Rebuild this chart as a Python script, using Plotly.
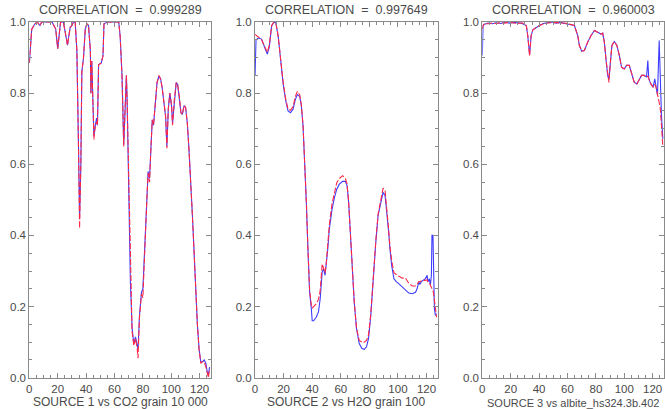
import plotly.graph_objects as go

# ---- Panel 1: SOURCE 1 vs CO2 grain 10 000 ----
x1 = [0, 1.7, 4, 5.5, 7.5, 8.7, 12, 16, 18.6, 20, 21.2, 22, 24, 25.7, 26.9, 27.8, 28.8, 30, 31, 32.3,
      33.5, 34.7, 35.4, 36.3, 37, 38.2, 39.4, 40.6, 41.7, 43, 43.4, 44, 44.8, 45.5, 46.5, 47.4, 48, 48.8,
      50.7, 51.9, 52.6, 55, 60, 63, 64, 65.3, 66.5, 67.7, 68.4, 68.9, 70, 71.2, 72.4, 73.6, 74.8, 75.9,
      76.6, 77.6, 79, 80, 81.1, 83, 83.7, 84.7, 85.6, 86.6, 87.5, 88.9, 90, 91.3, 92.5, 93.6, 94.8, 96,
      96.9, 97.9, 99, 100.2, 100.9, 102.1, 103.5, 104.5, 105.7, 106.8, 107.8, 109, 110.1, 111.3, 112.5,
      113.7, 114.9, 116, 117.2, 118.4, 119.6, 120.8, 122, 123.2, 124.4, 125.5, 126.2, 127]
source1 = [0.885, 0.98, 0.995, 1.0, 0.99, 1.0, 1.0, 1.0, 0.98, 0.925, 0.97, 1.0, 1.0, 0.96, 0.935, 0.96,
           0.985, 0.99, 1.0, 1.0, 0.92, 0.64, 0.45, 0.6, 0.86, 0.9, 0.98, 0.995, 0.99, 0.92, 0.80, 0.89,
           0.78, 0.68, 0.71, 0.73, 0.71, 0.88, 0.885, 0.905, 0.995, 1.0, 1.0, 1.0, 0.96, 0.85, 0.655, 0.755,
           0.85, 0.78, 0.55, 0.27, 0.14, 0.096, 0.115, 0.096, 0.08, 0.175, 0.24, 0.25, 0.36, 0.52, 0.58,
           0.56, 0.64, 0.725, 0.71, 0.775, 0.83, 0.848, 0.84, 0.815, 0.775, 0.735, 0.65, 0.755, 0.80, 0.765,
           0.715, 0.78, 0.83, 0.825, 0.79, 0.745, 0.74, 0.765, 0.76, 0.717, 0.64, 0.56, 0.456, 0.36, 0.25,
           0.15, 0.08, 0.045, 0.045, 0.05, 0.04, 0.012, 0.01, 0.03]
co2 = [0.885, 0.98, 0.995, 1.0, 0.99, 1.0, 1.0, 1.0, 0.98, 0.925, 0.97, 1.0, 1.0, 0.96, 0.935, 0.96,
       0.985, 0.99, 1.0, 1.0, 0.92, 0.63, 0.42, 0.6, 0.86, 0.9, 0.98, 0.995, 0.99, 0.92, 0.80, 0.89,
       0.78, 0.67, 0.71, 0.72, 0.71, 0.88, 0.885, 0.905, 0.995, 1.0, 1.0, 1.0, 0.96, 0.85, 0.65, 0.755,
       0.85, 0.78, 0.55, 0.27, 0.13, 0.09, 0.11, 0.085, 0.055, 0.17, 0.235, 0.225, 0.35, 0.52, 0.575,
       0.55, 0.64, 0.725, 0.71, 0.775, 0.83, 0.85, 0.84, 0.815, 0.775, 0.735, 0.645, 0.755, 0.80, 0.765,
       0.71, 0.78, 0.83, 0.825, 0.79, 0.745, 0.74, 0.765, 0.76, 0.717, 0.64, 0.56, 0.456, 0.36, 0.25,
       0.15, 0.08, 0.04, 0.045, 0.045, 0.03, 0.01, 0.0, 0.025]

# ---- Panel 2: SOURCE 2 vs H2O grain 100 ----
x2 = [0, 0.7, 2.3, 4.6, 6.9, 8.6, 10, 11.6, 13.2, 14.6, 16.2, 17.8, 19.7, 21.5, 23.1, 24.8, 26.6, 28.2,
      29.6, 31.3, 32.4, 33.6, 34.7, 35.9, 37, 38.2, 39.4, 40, 41, 42.8, 44.4, 45.6, 47, 47.9, 49, 49.8,
      50.9, 52, 53.9, 55.6, 57.2, 59, 61.3, 63.2, 64.4, 65.5, 66.7, 67.8, 69.4, 71, 72.9, 74.8, 76.4, 78,
      79.4, 81, 82.6, 84.5, 86.1, 88, 89.6, 91, 92.1, 93.3, 94.4, 95.6, 97.2, 98.8, 100.7, 103, 105.3,
      107.6, 110, 112.3, 113.4, 114.6, 115.3, 116.4, 118, 119.2, 120.4, 121, 122, 122.7, 123.4, 123.8,
      124.5, 125, 125.5, 126.2, 127]
source2 = [0.848, 0.95, 0.955, 0.952, 0.927, 0.91, 0.93, 0.988, 1.0, 0.997, 0.96, 0.895, 0.825, 0.778,
           0.75, 0.745, 0.755, 0.782, 0.796, 0.79, 0.764, 0.708, 0.624, 0.493, 0.362, 0.24, 0.194, 0.16,
           0.16, 0.17, 0.185, 0.222, 0.297, 0.306, 0.288, 0.316, 0.362, 0.418, 0.474, 0.507, 0.53, 0.544,
           0.552, 0.552, 0.54, 0.493, 0.409, 0.316, 0.213, 0.138, 0.096, 0.082, 0.08, 0.087, 0.11, 0.175,
           0.278, 0.381, 0.456, 0.493, 0.521, 0.512, 0.474, 0.418, 0.362, 0.316, 0.278, 0.27, 0.264, 0.255,
           0.246, 0.238, 0.236, 0.24, 0.25, 0.27, 0.262, 0.27, 0.275, 0.278, 0.288, 0.27, 0.278, 0.26,
           0.288, 0.4, 0.4, 0.288, 0.194, 0.175, 0.18]
h2o = [0.965, 0.962, 0.958, 0.95, 0.93, 0.915, 0.935, 0.99, 1.0, 0.997, 0.96, 0.9, 0.83, 0.783, 0.755,
       0.752, 0.762, 0.79, 0.805, 0.795, 0.768, 0.71, 0.625, 0.495, 0.365, 0.245, 0.205, 0.195, 0.2,
       0.208, 0.22, 0.245, 0.32, 0.31, 0.295, 0.32, 0.37, 0.43, 0.49, 0.525, 0.548, 0.56, 0.568, 0.56,
       0.545, 0.495, 0.41, 0.318, 0.215, 0.14, 0.105, 0.1, 0.1, 0.105, 0.12, 0.18, 0.28, 0.385, 0.46, 0.5,
       0.533, 0.525, 0.485, 0.425, 0.37, 0.33, 0.295, 0.29, 0.285, 0.28, 0.28, 0.265, 0.258, 0.258, 0.262,
       0.27, 0.27, 0.272, 0.273, 0.275, 0.275, 0.27, 0.268, 0.26, 0.255, 0.25, 0.245, 0.235, 0.215, 0.195,
       0.17]

# ---- Panel 3: SOURCE 3 vs albite_hs324.3b.402 ----
x3 = [0, 0.5, 1.6, 4, 7, 10, 13, 16, 19, 22, 25, 28, 31, 32, 33.3, 34.4, 35.6, 38, 40.3, 43, 46, 49, 52,
      55, 58, 61.4, 64.9, 67.2, 68.4, 70, 71.9, 74.2, 76.6, 79, 80.6, 82, 83.6, 84.8, 86, 87.1, 88.3, 89.2,
      90.2, 91.3, 93, 94.8, 96.5, 98.1, 100, 101.6, 103.5, 105.2, 107, 108.9, 110.5, 112.2, 114, 115.7,
      116.6, 117.3, 118.7, 120.3, 121.5, 122.5, 123.4, 124.6, 125.3, 126.2, 127.2]
source3 = [0.906, 0.99, 0.994, 0.997, 0.995, 0.998, 0.996, 1.0, 0.997, 0.999, 0.998, 0.996, 0.99, 0.962,
           0.908, 0.962, 0.978, 0.985, 0.99, 0.996, 0.998, 1.0, 0.997, 0.999, 0.996, 0.994, 0.99, 0.962,
           0.934, 0.918, 0.92, 0.943, 0.962, 0.976, 0.973, 0.971, 0.966, 0.969, 0.943, 0.896, 0.85, 0.838,
           0.887, 0.934, 0.945, 0.934, 0.906, 0.873, 0.868, 0.878, 0.878, 0.854, 0.831, 0.826, 0.836, 0.85,
           0.85, 0.845, 0.892, 0.84, 0.826, 0.817, 0.84, 0.812, 0.794, 0.948, 0.831, 0.738, 0.672]
albite = [0.98, 0.99, 0.996, 0.995, 0.997, 0.996, 0.998, 0.997, 0.999, 0.997, 0.996, 0.998, 0.99, 0.962,
          0.905, 0.962, 0.978, 0.985, 0.99, 0.995, 0.997, 0.998, 0.999, 0.997, 0.997, 0.994, 0.99, 0.962,
          0.934, 0.918, 0.92, 0.943, 0.962, 0.976, 0.973, 0.971, 0.966, 0.969, 0.943, 0.896, 0.85, 0.83,
          0.887, 0.934, 0.945, 0.934, 0.906, 0.873, 0.868, 0.878, 0.878, 0.854, 0.831, 0.826, 0.836, 0.85,
          0.85, 0.845, 0.848, 0.84, 0.826, 0.817, 0.825, 0.815, 0.8, 0.78, 0.76, 0.71, 0.65]

correlations = ["0.999289", "0.997649", "0.960003"]
xlabels = ["SOURCE 1 vs CO2 grain 10 000", "SOURCE 2 vs H2O grain 100", "SOURCE 3 vs albite_hs324.3b.402"]
x_ticks = [0, 20, 40, 60, 80, 100, 120]
y_ticks = [0.0, 0.2, 0.4, 0.6, 0.8, 1.0]

panels = [(x1, source1, co2), (x2, source2, h2o), (x3, source3, albite)]
x_domains = [[0.0441, 0.3173], [0.3835, 0.6586], [0.7253, 0.9985]]
y_domain = [0.0765, 0.9462]
label_sizes = [12, 12, 11]

BLUE = "rgb(60,60,255)"
RED = "rgb(255,40,70)"
AXIS = "#8a8a8a"
TEXT = "#4a4a4a"
FONT = "Liberation Sans, Arial, sans-serif"

fig = go.Figure()
for i, (xs, src, ref) in enumerate(panels):
    suffix = "" if i == 0 else str(i + 1)
    fig.add_trace(go.Scatter(x=xs, y=src, mode="lines", line=dict(color=BLUE, width=1.1),
                             xaxis="x" + suffix, yaxis="y" + suffix, showlegend=False))
    fig.add_trace(go.Scatter(x=xs, y=ref, mode="lines", line=dict(color=RED, width=1.1, dash="6px,2px"),
                             xaxis="x" + suffix, yaxis="y" + suffix, showlegend=False))

    common = dict(showline=True, linecolor=AXIS, linewidth=1, mirror="allticks", ticks="inside",
                  tickcolor=AXIS, ticklen=5, tickwidth=1, showgrid=False, zeroline=False,
                  automargin=False, tickfont=dict(family=FONT, size=11.5, color=TEXT))
    fig.update_layout(**{
        "xaxis" + suffix: dict(domain=x_domains[i], range=[0, 128], anchor="y" + suffix,
                               tickvals=x_ticks, minor=dict(dtick=5, tick0=0, ticks="inside", ticklen=3,
                                                            tickcolor=AXIS, showgrid=False),
                               **common),
        "yaxis" + suffix: dict(domain=y_domain, range=[0, 1], anchor="x" + suffix,
                               tickvals=y_ticks, tickformat=".1f",
                               minor=dict(dtick=0.05, tick0=0, ticks="inside", ticklen=3,
                                          tickcolor=AXIS, showgrid=False),
                               **common),
    })
    cx = (x_domains[i][0] + x_domains[i][1]) / 2
    fig.add_annotation(text="CORRELATION  =  " + correlations[i], x=cx, y=1.0, xref="paper", yref="paper",
                       xanchor="center", yanchor="top", yshift=-1, showarrow=False,
                       font=dict(family=FONT, size=12.5, color=TEXT))
    fig.add_annotation(text=xlabels[i], x=cx, y=0.0, xref="paper", yref="paper",
                       xanchor="center", yanchor="bottom", yshift=-1, borderpad=0, showarrow=False,
                       font=dict(family=FONT, size=label_sizes[i], color=TEXT))

fig.update_layout(width=665, height=409, margin=dict(l=0, r=0, t=0, b=0),
                  paper_bgcolor="white", plot_bgcolor="white")
fig.write_html("out.html")
